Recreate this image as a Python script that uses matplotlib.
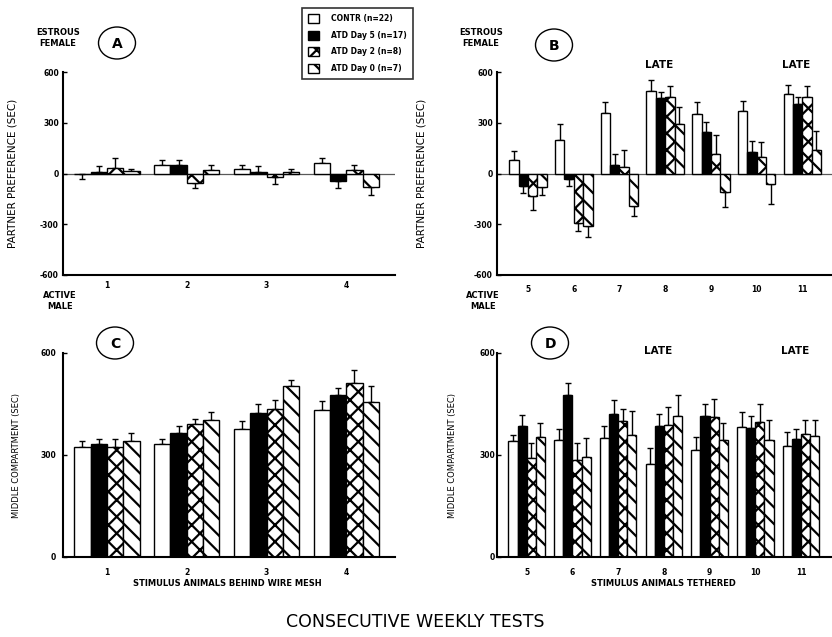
import numpy as np
import matplotlib.pyplot as plt
from matplotlib.patches import Patch, Ellipse

plt.rcParams['font.family'] = 'DejaVu Sans'
plt.rcParams['font.weight'] = 'bold'
plt.rcParams['hatch.linewidth'] = 1.6
plt.rcParams['axes.unicode_minus'] = False

W, H = 832, 637

groups = ['CONTR (n=22)', 'ATD Day 5 (n=17)', 'ATD Day 2 (n=8)', 'ATD Day 0 (n=7)']
weeks_early = ['1', '2', '3', '4']
weeks_late = ['5', '6', '7', '8', '9', '10', '11']

# partner preference (sec), weeks 1-4, stimulus animals behind wire mesh
pref_early = [[-5, 50, 28, 62],
              [8, 48, 10, -45],
              [35, -55, -18, 22],
              [15, 20, 6, -80]]
pref_early_sem = [[25, 27, 25, 28],
                  [35, 30, 34, 40],
                  [58, 30, 43, 26],
                  [10, 33, 18, 48]]

# partner preference (sec), weeks 5-11, tethered stimulus animals
pref_late = [[80, 200, 355, 490, 350, 368, 470],
             [-75, -30, 50, 445, 245, 130, 410],
             [-135, -295, 40, 455, 115, 95, 455],
             [-80, -310, -190, 290, -110, -65, 140]]
pref_late_sem = [[55, 90, 70, 62, 70, 60, 55],
                 [43, 45, 68, 38, 58, 65, 45],
                 [78, 45, 100, 60, 110, 92, 62],
                 [48, 65, 63, 105, 90, 115, 110]]

# time in middle compartment (sec)
middle_early = [[323, 332, 376, 432],
                [332, 364, 425, 476],
                [325, 390, 434, 513],
                [340, 404, 503, 457]]
middle_early_sem = [[17, 16, 25, 27],
                    [16, 22, 25, 21],
                    [23, 16, 27, 38],
                    [25, 22, 18, 45]]

middle_late = [[340, 343, 350, 275, 315, 382, 327],
               [386, 476, 421, 386, 416, 379, 347],
               [290, 285, 399, 389, 412, 396, 362],
               [353, 295, 360, 414, 343, 343, 355]]
middle_late_sem = [[20, 33, 35, 45, 38, 44, 40],
                   [33, 36, 41, 36, 35, 37, 30],
                   [45, 50, 35, 53, 52, 55, 42],
                   [40, 55, 70, 62, 50, 60, 47]]

late_weeks = ['8', '11']

fills = [('white', ''), ('black', ''), ('white', 'xx'), ('white', '\\\\')]


def px(x, y):
    return x / W, 1 - y / H


def draw_bars(ax, means, sems, width):
    x = np.arange(len(means[0]))
    for i, (m, e) in enumerate(zip(means, sems)):
        m = np.array(m, dtype=float)
        e = np.array(e, dtype=float)
        pos = x + (i - 1.5) * width
        fc, hatch = fills[i]
        ax.bar(pos, m, width, color=fc, edgecolor='black', hatch=hatch,
               linewidth=1.0, zorder=2)
        lower = np.where(m < 0, e, 0)
        upper = np.where(m >= 0, e, 0)
        ax.errorbar(pos, m, yerr=[lower, upper], fmt='none', ecolor='black',
                    elinewidth=1.0, capsize=2.2, capthick=1.0, zorder=1)


def style(ax, ticks, ylim, xlim, xlabels, xpad, ypad):
    ax.set_xlim(*xlim)
    ax.set_ylim(*ylim)
    ax.set_yticks(ticks)
    ax.set_xticks(np.arange(len(xlabels)))
    ax.set_xticklabels(xlabels)
    for s in ['top', 'right']:
        ax.spines[s].set_visible(False)
    for s in ['left', 'bottom']:
        ax.spines[s].set_linewidth(1.5)
    ax.tick_params(axis='y', direction='in', length=3, width=1.0,
                   labelsize=5.5, pad=ypad)
    ax.tick_params(axis='x', length=0, labelsize=5.5, pad=xpad)


def circle_label(letter, cx, cy):
    fig.add_artist(Ellipse((cx / 100, (H - cy) / 100), 0.37, 0.32,
                           transform=fig.dpi_scale_trans, fill=False,
                           lw=1.0, ec='black'))
    fig.text(*px(cx, cy + 1), letter, ha='center', va='center', fontsize=10)


fig = plt.figure(figsize=(W / 100, H / 100), dpi=100)

ax_a = fig.add_axes([63 / W, 1 - 275 / H, 332 / W, 203 / H])
ax_b = fig.add_axes([497 / W, 1 - 275 / H, 335 / W, 203 / H])
ax_c = fig.add_axes([63 / W, 1 - 557 / H, 332 / W, 204 / H])
ax_d = fig.add_axes([497 / W, 1 - 557 / H, 335 / W, 204 / H])

draw_bars(ax_a, pref_early, pref_early_sem, 0.205)
draw_bars(ax_b, pref_late, pref_late_sem, 0.205)
draw_bars(ax_c, middle_early, middle_early_sem, 0.205)
draw_bars(ax_d, middle_late, middle_late_sem, 0.2)

for ax in (ax_a, ax_b):
    ax.axhline(0, color='0.35', lw=0.9, zorder=0.5)

style(ax_a, [-600, -300, 0, 300, 600], (-600, 600), (-0.55, 3.61), weeks_early, 4, 3)
style(ax_b, [-600, -300, 0, 300, 600], (-600, 600), (-0.68, 6.65), weeks_late, 7, 3)
style(ax_c, [0, 300, 600], (0, 600), (-0.55, 3.61), weeks_early, 8, 5)
style(ax_d, [0, 300, 600], (0, 600), (-0.65, 6.68), weeks_late, 8, 1.5)

ax_a.set_ylabel('PARTNER PREFERENCE (SEC)', fontsize=7.5)
ax_a.yaxis.set_label_coords(-0.136, 0.5)
ax_b.set_ylabel('PARTNER PREFERENCE (SEC)', fontsize=7.5)
ax_b.yaxis.set_label_coords(-0.209, 0.5)
ax_c.set_ylabel('MIDDLE COMPARTMENT (SEC)', fontsize=6)
ax_c.yaxis.set_label_coords(-0.125, 0.5)
ax_d.set_ylabel('MIDDLE COMPARTMENT (SEC)', fontsize=6)
ax_d.yaxis.set_label_coords(-0.12, 0.5)

fig.text(*px(227, 583), 'STIMULUS ANIMALS BEHIND WIRE MESH', ha='center',
         va='center', fontsize=6)
fig.text(*px(663, 583), 'STIMULUS ANIMALS TETHERED', ha='center',
         va='center', fontsize=6)

# LATE markers over weeks 8 and 11
for ax, y in ((ax_b, 640), (ax_d, 607)):
    for wk in late_weeks:
        ax.text(weeks_late.index(wk) - 0.13, y, 'LATE', ha='center',
                va='center', fontsize=7.5, clip_on=False)

for x in (58, 481):
    fig.text(*px(x, 38), 'ESTROUS\nFEMALE', ha='center', va='center',
             fontsize=6, linespacing=1.3)
    fig.text(*px(x + 2, 301), 'ACTIVE\nMALE', ha='center', va='center',
             fontsize=6, linespacing=1.3)

circle_label('A', 117, 43)
circle_label('B', 554, 45)
circle_label('C', 115, 343)
circle_label('D', 550, 343)

handles = [Patch(facecolor=fc, edgecolor='black', hatch=h, linewidth=1.0)
           for fc, h in fills]
leg = fig.legend(handles, groups, loc='upper left',
                 bbox_to_anchor=px(302, 8), frameon=True, fancybox=False,
                 edgecolor='black', fontsize=5.5, handlelength=1.4,
                 handleheight=1.4, labelspacing=1.0, borderpad=0.8,
                 handletextpad=1.6, borderaxespad=0)
leg.get_frame().set_linewidth(1.2)

fig.text(*px(415, 622), 'CONSECUTIVE WEEKLY TESTS', ha='center', va='center',
         fontsize=12.5, fontweight='normal')

fig.savefig('out.png', dpi=100)
